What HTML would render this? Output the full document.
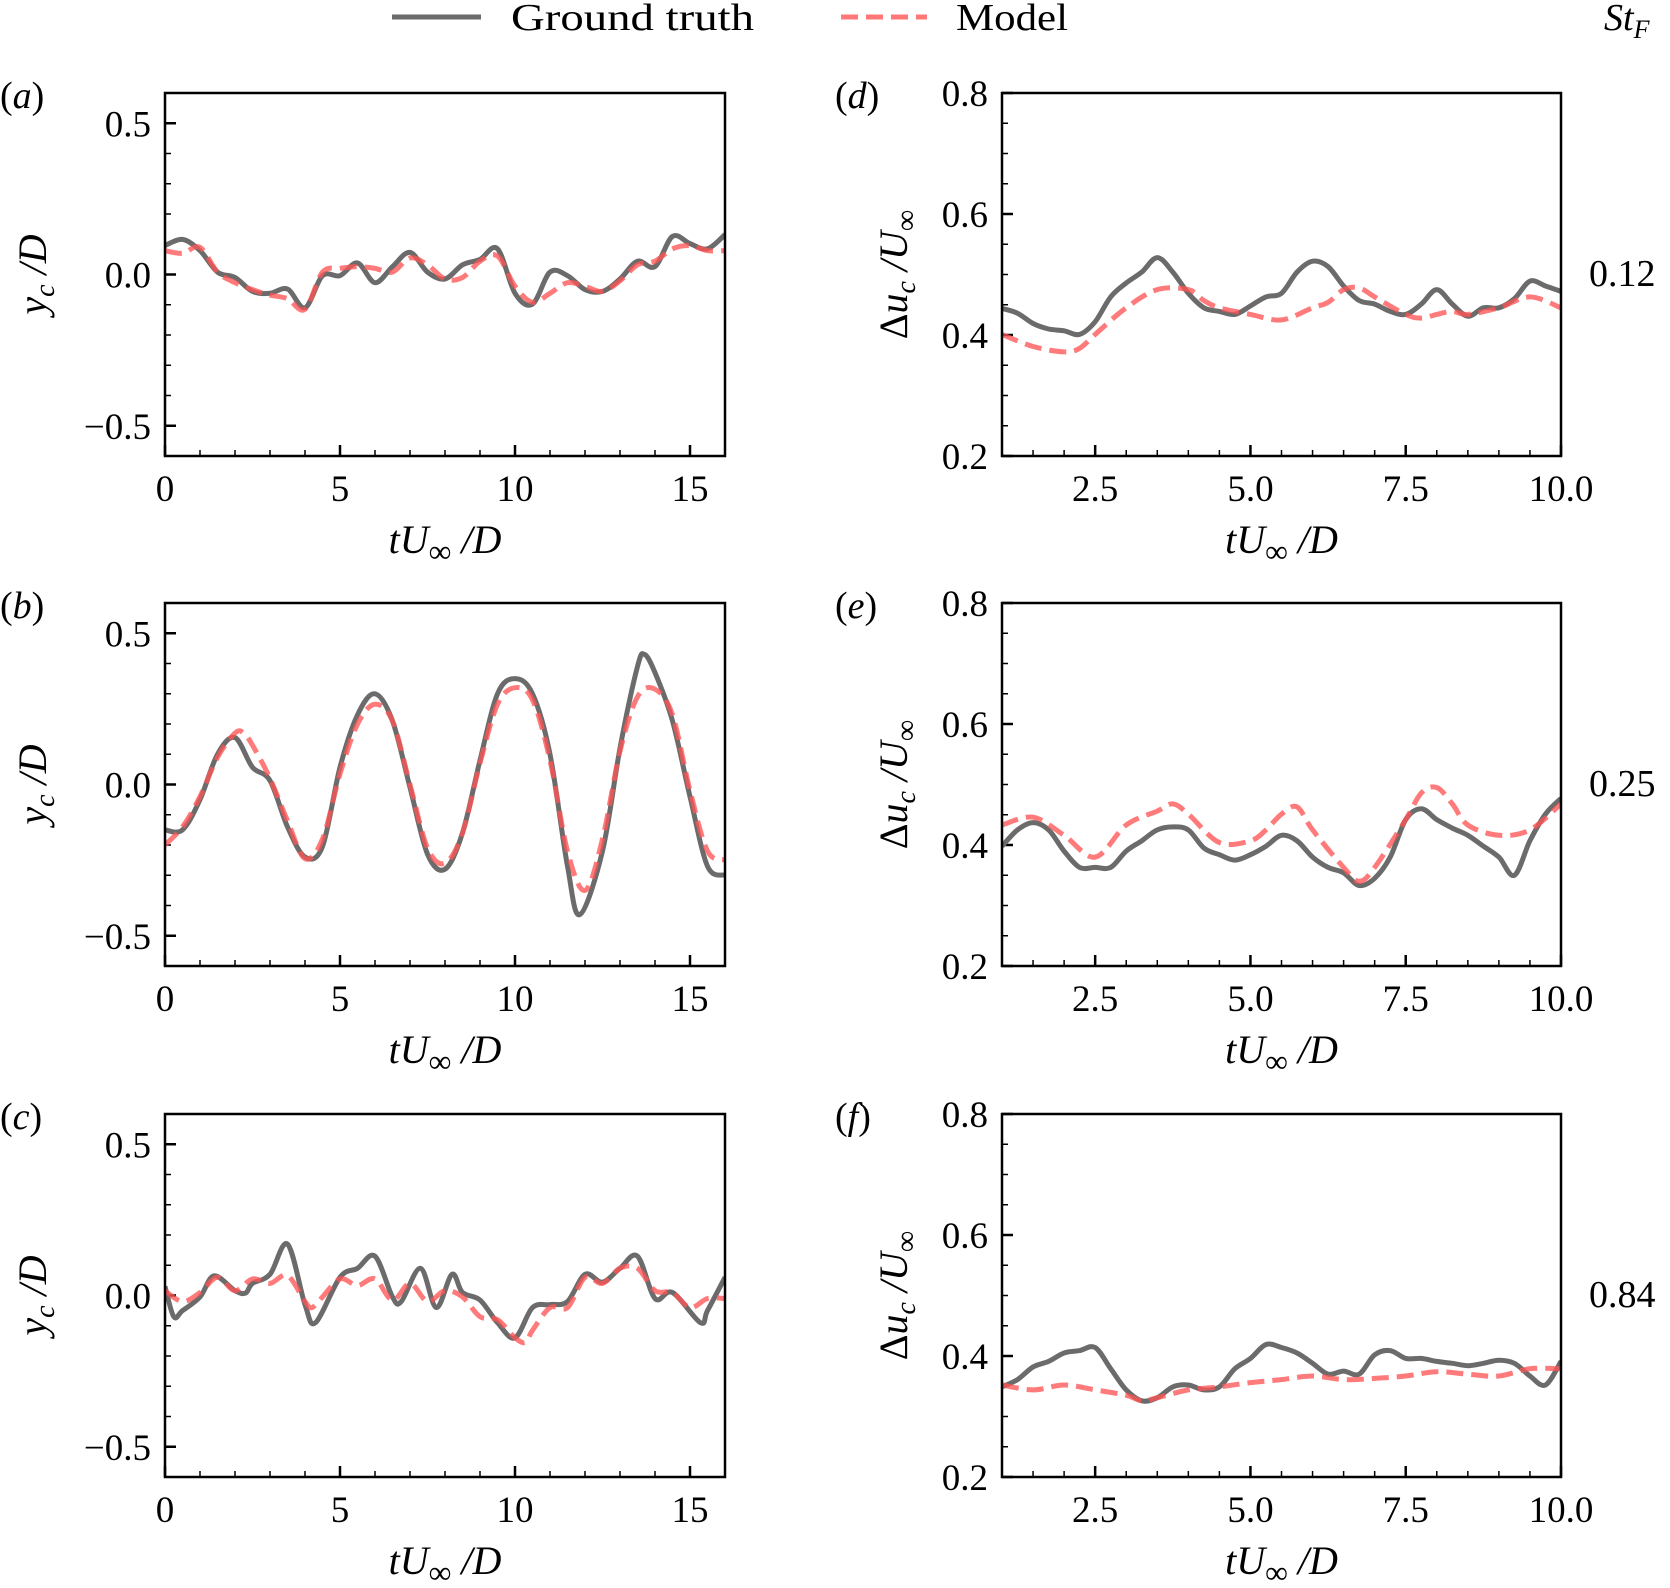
<!DOCTYPE html>
<html><head><meta charset="utf-8"><style>
html,body{margin:0;padding:0;background:#fff;}
svg{display:block;font-family:"Liberation Serif","DejaVu Serif",serif;}
</style></head><body>
<svg id="fig" width="1670" height="1588" viewBox="0 0 1670 1588" xmlns="http://www.w3.org/2000/svg">
<g>
<line x1="392" y1="17" x2="481" y2="17" stroke="#6b6b6b" stroke-width="5"/>
<text x="511" y="30" font-size="38" textLength="243" lengthAdjust="spacingAndGlyphs">Ground truth</text>
<line x1="841" y1="17" x2="927" y2="17" stroke="#ff5555" stroke-opacity="0.8" stroke-width="5" stroke-dasharray="17,8"/>
<text x="956" y="30" font-size="38" textLength="112" lengthAdjust="spacingAndGlyphs">Model</text>
<text x="1604" y="30" font-size="38" font-style="italic">St<tspan font-size="26" dy="8">F</tspan></text>
</g>
</svg>
<script>
const tA=[0,0.5,1,1.5,2,2.5,3,3.5,4,4.5,5,5.5,6,6.5,7,7.5,8,8.5,9,9.5,10,10.5,11,11.5,12,12.5,13,13.5,14,14.5,15,15.5,16];
const gtA=[0.096,0.116,0.079,0.008,-0.01,-0.056,-0.062,-0.048,-0.11,-0.004,-0.004,0.038,-0.027,0.026,0.073,0.008,-0.015,0.032,0.05,0.085,-0.062,-0.098,0.008,-0.004,-0.05,-0.056,-0.015,0.044,0.026,0.126,0.102,0.085,0.132];
const mdA=[0.079,0.07,0.09,0.008,-0.027,-0.05,-0.068,-0.08,-0.115,0.008,0.02,0.026,0.02,0.008,0.055,0.032,-0.015,-0.01,0.044,0.061,-0.039,-0.092,-0.062,-0.027,-0.039,-0.056,-0.021,0.032,0.044,0.085,0.096,0.079,0.079];
const tB=[0,0.5,1,1.5,2,2.5,3,3.5,4,4.5,5,5.5,6,6.5,7,7.5,8,8.5,9,9.5,10,10.5,11,11.5,11.85,12.5,13,13.5,13.7,14,14.5,15,15.5,16];
const gtB=[-0.15,-0.15,-0.05,0.10,0.155,0.057,0.013,-0.14,-0.24,-0.205,0.057,0.23,0.30,0.21,-0.01,-0.23,-0.28,-0.16,0.08,0.30,0.35,0.30,0.10,-0.27,-0.43,-0.22,0.12,0.39,0.43,0.37,0.21,-0.04,-0.27,-0.30];
const tBm=[0,0.5,1,1.5,2,2.25,2.5,3,3.5,4,4.5,5,5.5,6,6.5,7,7.5,8,8.5,9,9.5,10,10.5,11,11.5,12,12.5,13,13.5,14,14.5,15,15.5,16];
const mdB=[-0.20,-0.14,-0.04,0.09,0.17,0.17,0.13,0.02,-0.12,-0.245,-0.18,0.035,0.20,0.265,0.21,0.00,-0.21,-0.26,-0.16,0.07,0.265,0.32,0.28,0.08,-0.22,-0.35,-0.18,0.11,0.29,0.315,0.23,-0.02,-0.22,-0.25];
const tC=[0,0.25,0.5,1,1.4,2,2.3,2.5,3,3.5,4,4.3,5,5.5,6,6.5,6.75,7.3,7.75,8.2,8.5,9,9.5,10,10.5,11,11.5,12,12.5,13,13.5,14,14.5,15.3,15.5,16];
const gtC=[0.03,-0.07,-0.05,-0.005,0.065,0.016,0.008,0.04,0.07,0.17,-0.03,-0.09,0.06,0.09,0.13,-0.005,-0.02,0.09,-0.04,0.07,0.01,-0.015,-0.09,-0.14,-0.04,-0.03,-0.02,0.07,0.044,0.09,0.13,-0.01,0.01,-0.09,-0.05,0.06];
const tCm=[0,0.5,1,1.5,2,2.5,3,3.5,4,4.2,4.5,5,5.5,6,6.5,7,7.5,8,8.5,9,9.5,10,10.3,10.5,11,11.5,12,12.5,13,13.5,14,14.5,15,15.5,16];
const mdC=[0.016,-0.02,0.01,0.06,0.016,0.055,0.04,0.066,-0.02,-0.04,-0.005,0.055,0.033,0.055,-0.016,0.04,-0.02,0.016,-0.005,-0.07,-0.08,-0.14,-0.155,-0.115,-0.04,-0.04,0.06,0.04,0.09,0.09,0.016,0.01,-0.04,-0.01,-0.01];
const tQ=[1,1.25,1.5,1.75,2,2.25,2.5,2.75,3,3.25,3.5,3.75,4,4.25,4.5,4.75,5,5.25,5.5,5.75,6,6.25,6.5,6.75,7,7.25,7.5,7.75,8,8.25,8.5,8.75,9,9.25,9.5,9.75,10];
const gtD=[0.444,0.436,0.419,0.41,0.407,0.401,0.422,0.463,0.486,0.504,0.528,0.504,0.469,0.445,0.439,0.434,0.448,0.463,0.469,0.504,0.522,0.513,0.481,0.457,0.451,0.439,0.434,0.451,0.475,0.451,0.431,0.445,0.445,0.46,0.489,0.481,0.472];
const tDm=[1,1.5,2,2.25,2.5,3,3.5,4,4.25,4.5,5,5.5,6,6.25,6.5,6.75,7,7.5,7.75,8,8.25,8.5,9,9.5,10];
const mdD=[0.401,0.381,0.372,0.378,0.401,0.445,0.475,0.475,0.457,0.445,0.434,0.425,0.445,0.454,0.475,0.478,0.463,0.434,0.428,0.434,0.439,0.434,0.445,0.463,0.445];
const gtE=[0.398,0.425,0.437,0.425,0.39,0.363,0.363,0.363,0.39,0.407,0.425,0.43,0.425,0.395,0.384,0.375,0.384,0.398,0.416,0.407,0.38,0.363,0.354,0.333,0.345,0.38,0.442,0.46,0.442,0.428,0.416,0.398,0.38,0.35,0.407,0.451,0.477];
const tEm=[1,1.5,2,2.5,3,3.5,3.75,4,4.5,5,5.25,5.5,5.75,6,6.5,6.75,7,7.5,7.75,8,8.25,8.5,9,9.5,10];
const mdE=[0.433,0.446,0.416,0.38,0.433,0.456,0.468,0.451,0.404,0.407,0.425,0.451,0.463,0.425,0.363,0.34,0.363,0.442,0.486,0.495,0.468,0.433,0.416,0.425,0.468];
const gtF=[0.349,0.361,0.382,0.391,0.405,0.409,0.414,0.379,0.344,0.326,0.331,0.349,0.352,0.344,0.349,0.379,0.396,0.419,0.414,0.405,0.388,0.37,0.375,0.37,0.402,0.409,0.396,0.396,0.391,0.388,0.384,0.388,0.393,0.388,0.367,0.352,0.391];
const tFm=[1,1.5,2,2.5,3,3.25,3.5,4,4.5,5,5.5,6,6.5,7,7.5,8,8.5,9,9.5,10];
const mdF=[0.352,0.344,0.352,0.344,0.335,0.326,0.331,0.344,0.349,0.356,0.361,0.367,0.361,0.363,0.367,0.374,0.37,0.367,0.379,0.379];
const leftXTicks=["0","5","10","15"];
const leftYTicks=["\u22120.5","0.0","0.5"];
const rightXTicks=["2.5","5.0","7.5","10.0"];
const rightYTicks=["0.2","0.4","0.6","0.8"];
const stValues=["0.12","0.25","0.84"];

const NS="http://www.w3.org/2000/svg";
const svg=document.getElementById('fig');
function mk(tag,attrs,parent){const e=document.createElementNS(NS,tag);for(const k in attrs)e.setAttribute(k,attrs[k]);(parent||svg).appendChild(e);return e;}
function smooth(pts){let d="M"+pts[0][0].toFixed(1)+","+pts[0][1].toFixed(1);
 for(let i=0;i<pts.length-1;i++){const p0=pts[Math.max(0,i-1)],p1=pts[i],p2=pts[i+1],p3=pts[Math.min(pts.length-1,i+2)];
  const c1=[p1[0]+(p2[0]-p0[0])/6,p1[1]+(p2[1]-p0[1])/6],c2=[p2[0]-(p3[0]-p1[0])/6,p2[1]-(p3[1]-p1[1])/6];
  d+=" C"+c1[0].toFixed(1)+","+c1[1].toFixed(1)+" "+c2[0].toFixed(1)+","+c2[1].toFixed(1)+" "+p2[0].toFixed(1)+","+p2[1].toFixed(1);}
 return d;}
const rows=[93,603,1114], H=363;
function panel(opt){
 const g=mk('g',{});
 
 
 const x0=opt.x0,w=opt.w,y0=opt.y0;
 const sx=v=>x0+(v-opt.xmin)/(opt.xmax-opt.xmin)*w;
 const sy=v=>y0+H-(v-opt.ymin)/(opt.ymax-opt.ymin)*H;
 const clip=mk('clipPath',{id:'clip'+opt.id},g);mk('rect',{x:x0,y:y0,width:w,height:H},clip);
 for(let v=opt.xmin;v<=opt.xmax+1e-9;v+=opt.xminor){const t=mk('line',{x1:sx(v),x2:sx(v),y1:y0+H,y2:y0+H-6,stroke:'#000','stroke-width':1.5},g);}
 for(let v=opt.ymin;v<=opt.ymax+1e-9;v+=opt.yminor){const t=mk('line',{x1:x0,x2:x0+6,y1:sy(v),y2:sy(v),stroke:'#000','stroke-width':1.5},g);}
 opt.xt.forEach((lab,i)=>{const v=parseFloat(lab.replace('\u2212','-'));const X=sx(v);
  const t=mk('line',{x1:X,x2:X,y1:y0+H,y2:y0+H-11,stroke:'#000','stroke-width':2.5},g);
  const tx=mk('text',{x:X,y:y0+H+45,'font-size':37,'text-anchor':'middle'},g);tx.textContent=lab;});
 opt.yt.forEach((lab,i)=>{const v=parseFloat(lab.replace('\u2212','-'));const Y=sy(v);
  const t=mk('line',{x1:x0,x2:x0+11,y1:Y,y2:Y,stroke:'#000','stroke-width':2.5},g);
  const tx=mk('text',{x:x0-14,y:Y+13,'font-size':37,'text-anchor':'end'},g);tx.textContent=lab;});
 const gp=mk('path',{d:smooth(opt.tg.map((t,i)=>[sx(t),sy(opt.g[i])])),fill:'none',stroke:'#6b6b6b','stroke-width':5,'stroke-linejoin':'round','clip-path':'url(#clip'+opt.id+')'},g);
 
 const mp=mk('path',{d:smooth(opt.tm.map((t,i)=>[sx(t),sy(opt.m[i])])),fill:'none',stroke:'#ff5555','stroke-opacity':0.78,'stroke-width':5,'stroke-dasharray':'17,8','clip-path':'url(#clip'+opt.id+')'},g);
 
 const fr=mk('rect',{x:x0,y:y0,width:w,height:H,fill:'none',stroke:'#000','stroke-width':2.5},g);
 
 const xl=mk('text',{x:x0+w/2,y:y0+H+97,'font-size':40,'font-style':'italic','text-anchor':'middle'},g);
 xl.innerHTML='tU<tspan font-size="32" dy="9" font-style="normal">\u221E</tspan><tspan dy="-9"> /D</tspan>';
 
 const yl=mk('text',{x:0,y:0,'font-size':40,'font-style':'italic','text-anchor':'middle',transform:'translate('+opt.ylx+','+(y0+H/2)+') rotate(-90)'},g);
 yl.innerHTML=opt.ylab;
 
 const pl=mk('text',{x:opt.plx,y:y0+15,'font-size':38},g);
 pl.innerHTML='(<tspan font-style="italic">'+opt.id+'</tspan>)';
 
 if(opt.st){const s=mk('text',{x:1589,y:y0+193,'font-size':38},g);s.textContent=opt.st;}
}
const yLeft='y<tspan font-size="28" dy="8">c</tspan><tspan dy="-8"> /D</tspan>';
const yRight='<tspan font-style="normal">\u0394</tspan>u<tspan font-size="28" dy="8">c</tspan><tspan dy="-8"> /U</tspan><tspan font-size="30" dy="9" font-style="normal">\u221E</tspan>';
const L={x0:165,w:560,xmin:0,xmax:16,ymin:-0.6,ymax:0.6,xminor:1,yminor:0.1,xt:leftXTicks,yt:leftYTicks,ylx:46,ylab:yLeft,plx:0};
const R={x0:1002,w:559,xmin:1,xmax:10,ymin:0.2,ymax:0.8,xminor:0.5,yminor:0.05,xt:rightXTicks,yt:rightYTicks,ylx:907,ylab:yRight,plx:835};
panel(Object.assign({},L,{id:'a',y0:rows[0],tg:tA,g:gtA,tm:tA,m:mdA}));
panel(Object.assign({},L,{id:'b',y0:rows[1],tg:tB,g:gtB,tm:tBm,m:mdB}));
panel(Object.assign({},L,{id:'c',y0:rows[2],tg:tC,g:gtC,tm:tCm,m:mdC}));
panel(Object.assign({},R,{id:'d',y0:rows[0],tg:tQ,g:gtD,tm:tDm,m:mdD,st:stValues[0]}));
panel(Object.assign({},R,{id:'e',y0:rows[1],tg:tQ,g:gtE,tm:tEm,m:mdE,st:stValues[1]}));
panel(Object.assign({},R,{id:'f',y0:rows[2],tg:tQ,g:gtF,tm:tFm,m:mdF,st:stValues[2]}));
</script>
</body></html>
